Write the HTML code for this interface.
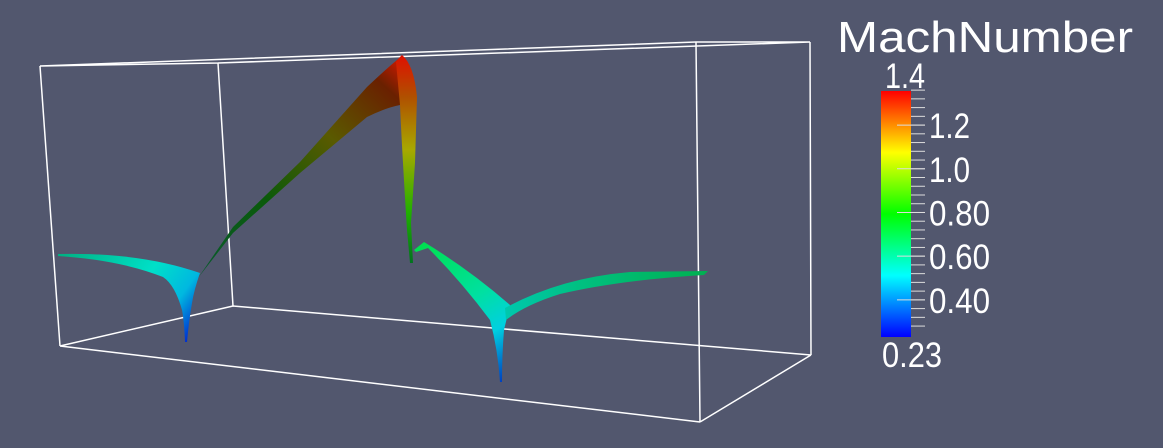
<!DOCTYPE html>
<html><head><meta charset="utf-8"><style>
html,body{margin:0;padding:0;background:#52576e;}
svg{display:block;font-family:"Liberation Sans",sans-serif;}
</style></head><body>
<svg width="1163" height="448" viewBox="0 0 1163 448">
<defs>
<linearGradient id="cbar" x1="0" y1="1" x2="0" y2="0">
<stop offset="0" stop-color="#0000ff"/><stop offset="0.25" stop-color="#00ffff"/>
<stop offset="0.5" stop-color="#00ff00"/><stop offset="0.75" stop-color="#ffff00"/>
<stop offset="1" stop-color="#ff0000"/></linearGradient>
<linearGradient id="lwg" x1="60" y1="250" x2="186" y2="342" gradientUnits="userSpaceOnUse">
<stop offset="0" stop-color="#00b080"/><stop offset="0.55" stop-color="#00e0c8"/><stop offset="0.8" stop-color="#00b8e0"/><stop offset="1" stop-color="#0030d0"/></linearGradient>
<linearGradient id="rib" x1="200" y1="280" x2="400" y2="60" gradientUnits="userSpaceOnUse">
<stop offset="0" stop-color="#0a5a30"/><stop offset="0.35" stop-color="#0a5a0a"/><stop offset="0.65" stop-color="#5a5a00"/><stop offset="0.9" stop-color="#6a2000"/><stop offset="1" stop-color="#cc1a00"/></linearGradient>
<linearGradient id="vs" x1="0" y1="55" x2="0" y2="265" gradientUnits="userSpaceOnUse">
<stop offset="0" stop-color="#e01000"/><stop offset="0.2" stop-color="#b05000"/><stop offset="0.45" stop-color="#a8a800"/><stop offset="0.75" stop-color="#20b000"/><stop offset="1" stop-color="#007020"/></linearGradient>
<linearGradient id="rc" x1="420" y1="245" x2="502" y2="382" gradientUnits="userSpaceOnUse">
<stop offset="0" stop-color="#00e050"/><stop offset="0.45" stop-color="#00e0a0"/><stop offset="0.7" stop-color="#00d0e0"/><stop offset="1" stop-color="#0040c0"/></linearGradient>
<linearGradient id="rw" x1="500" y1="310" x2="708" y2="272" gradientUnits="userSpaceOnUse">
<stop offset="0" stop-color="#00c8b0"/><stop offset="0.4" stop-color="#00c080"/><stop offset="1" stop-color="#00b050"/></linearGradient>
</defs>

<g stroke="#ffffff" stroke-width="1.5" fill="none">
<path d="M40,66 L60,346 M218,63 L233,306 M696,42 L700,422 M810,42 L811,355"/>
<path d="M60,346 L700,422 M233,306 L811,355 M60,346 L233,306 M700,422 L811,355"/>
<path d="M40,66 L696,42 M218,63 L810,42 M40,66 L218,63 M696,42 L810,42"/>
</g>

<g>
<path fill="url(#lwg)" d="M58,254 Q140,252 200,273 Q194,290 192,303 Q189,320 187,342 L185,342 Q184,320 182,310 Q175,285 163,277 Q120,260 58,256 Z"/>
<path fill="url(#rib)" d="M198,278 L233,227 L300,162 L367,87 Q385,70 397,60 L402,55 L400,105 Q385,108 367,117 L300,173 L233,233 Z"/>
<path fill="url(#vs)" d="M396,62 L402,55 Q414,65 417,97 L415,163 L411,223 L413,263 L410,263 L407,230 Q402,150 400,105 Z"/>
<path fill="url(#rc)" d="M414,250 L424,242 Q470,270 510,305 L504,330 Q502,355 502,382 L500,382 Q498,350 490,320 Q460,280 428,248 L416,252 Z"/>
<path fill="url(#rw)" d="M505,308 Q560,278 630,272 L708,271 L704,275 Q620,280 560,294 Q525,305 506,320 Z"/>
</g>

<g>
<text x="837" y="52" font-size="44" fill="#ffffff" textLength="296" lengthAdjust="spacingAndGlyphs">MachNumber</text>
<rect x="881" y="91" width="30" height="246" fill="url(#cbar)"/>
<g id="ticks" stroke="#dddddd" stroke-width="1"></g>
<g id="labels" fill="#ffffff" font-size="35"></g>
<text x="885" y="88" font-size="35" fill="#ffffff" textLength="40" lengthAdjust="spacingAndGlyphs">1.4</text>
<text x="882" y="367" font-size="35" fill="#ffffff" textLength="60" lengthAdjust="spacingAndGlyphs">0.23</text>
</g>
</svg>
<script>
const tickValues = [1.2, 1.0, 0.8, 0.6, 0.4];
const tickLabels = ["1.2", "1.0", "0.80", "0.60", "0.40"];
const rangeMin = 0.23;
const rangeMax = 1.356;
const NS = "http://www.w3.org/2000/svg";
function yScale(v){ return 91 + (rangeMax - v) / (rangeMax - rangeMin) * 246; }
const tg = document.getElementById('ticks');
const lg = document.getElementById('labels');
for (let v = 1.36; v >= 0.24; v -= 0.04) {
  const t = document.createElementNS(NS, 'line');
  
  
  const y = yScale(v);
  t.setAttribute('x1', 911); t.setAttribute('x2', 925);
  t.setAttribute('y1', y); t.setAttribute('y2', y);
  tg.appendChild(t);
}
tickValues.forEach((v, i) => {
  const y = yScale(v);
  const t = document.createElementNS(NS, 'line');
  
  
  t.setAttribute('x1', 897); t.setAttribute('x2', 925);
  t.setAttribute('y1', y); t.setAttribute('y2', y);
  tg.appendChild(t);
  const l = document.createElementNS(NS, 'text');
  
  
  l.setAttribute('x', 929); l.setAttribute('y', y + 13);
  l.setAttribute('textLength', tickLabels[i].length === 3 ? 41 : 61);
  l.setAttribute('lengthAdjust', 'spacingAndGlyphs');
  l.textContent = tickLabels[i];
  lg.appendChild(l);
});
</script>
</body></html>
